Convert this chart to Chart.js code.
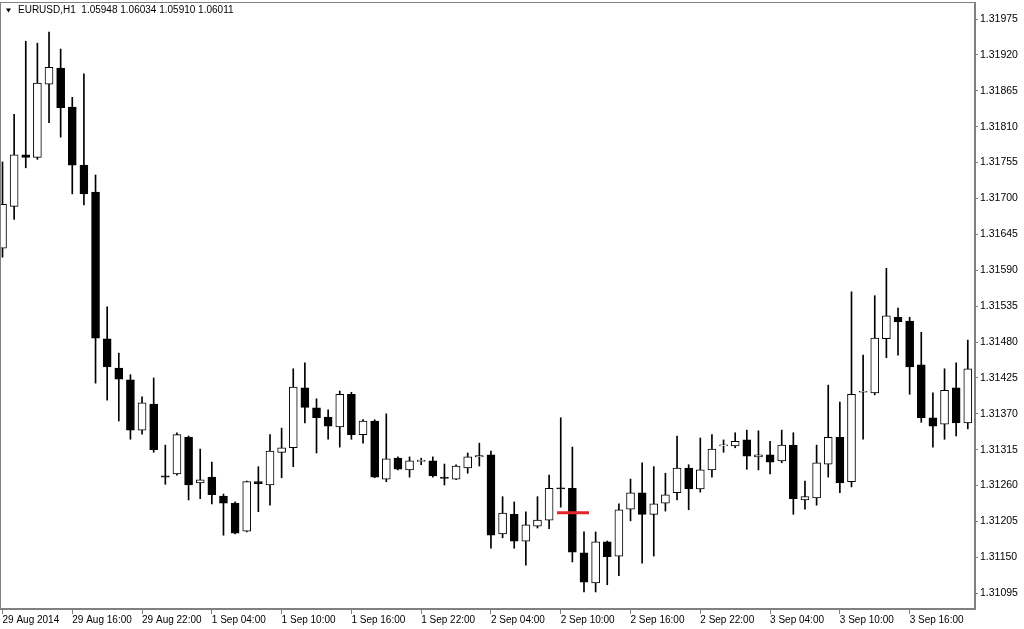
<!DOCTYPE html>
<html>
<head>
<meta charset="utf-8">
<script src="https://cdn.jsdelivr.net/npm/chart.js@4.4.0/dist/chart.umd.min.js"></script>
<style>
html, body { margin: 0; padding: 0; background: #fff; }
#chart { display: block; }
</style>
</head>
<body>
<canvas id="chart" width="1024" height="629"></canvas>
<script>
// EURUSD H1, one bar per hour
var opens = [
  1.31624, 1.31688, 1.31767, 1.31763, 1.31875, 1.31900, 1.31840, 1.31751, 1.31710, 1.31485,
  1.31440, 1.31422, 1.31345, 1.31385, 1.31275, 1.31278, 1.31334, 1.31264, 1.31273, 1.31244,
  1.31233, 1.31190, 1.31266, 1.31261, 1.31311, 1.31318, 1.31410, 1.31379, 1.31365, 1.31350,
  1.31400, 1.31338, 1.31359, 1.31270, 1.31302, 1.31284, 1.31297, 1.31298, 1.31273, 1.31270,
  1.31287, 1.31304, 1.31307, 1.31186, 1.31216, 1.31175, 1.31198, 1.31207, 1.31256, 1.31256,
  1.31157, 1.31111, 1.31174, 1.31152, 1.31224, 1.31249, 1.31216, 1.31233, 1.31249, 1.31287,
  1.31255, 1.31284, 1.31321, 1.31321, 1.31330, 1.31304, 1.31307, 1.31298, 1.31322, 1.31238,
  1.31241, 1.31293, 1.31334, 1.31266, 1.31403, 1.31402, 1.31485, 1.31518, 1.31512, 1.31445,
  1.31364, 1.31354, 1.31410, 1.31356
];
var highs = [
  1.31756, 1.31829, 1.31941, 1.31938, 1.31955, 1.31929, 1.31855, 1.31891, 1.31736, 1.31534,
  1.31463, 1.31430, 1.31396, 1.31425, 1.31322, 1.31341, 1.31336, 1.31316, 1.31296, 1.31247,
  1.31235, 1.31267, 1.31289, 1.31338, 1.31348, 1.31439, 1.31448, 1.31393, 1.31376, 1.31405,
  1.31403, 1.31361, 1.31361, 1.31370, 1.31304, 1.31304, 1.31302, 1.31304, 1.31293, 1.31292,
  1.31310, 1.31325, 1.31313, 1.31243, 1.31235, 1.31220, 1.31243, 1.31276, 1.31364, 1.31319,
  1.31189, 1.31189, 1.31175, 1.31232, 1.31270, 1.31295, 1.31289, 1.31279, 1.31336, 1.31292,
  1.31333, 1.31338, 1.31330, 1.31341, 1.31345, 1.31344, 1.31328, 1.31345, 1.31341, 1.31267,
  1.31322, 1.31414, 1.31388, 1.31557, 1.31460, 1.31551, 1.31593, 1.31532, 1.31518, 1.31495,
  1.31402, 1.31439, 1.31448, 1.31483
];
var lows = [
  1.31610, 1.31668, 1.31747, 1.31760, 1.31816, 1.31794, 1.31707, 1.31690, 1.31417, 1.31391,
  1.31359, 1.31331, 1.31339, 1.31311, 1.31262, 1.31276, 1.31238, 1.31240, 1.31232, 1.31184,
  1.31186, 1.31189, 1.31220, 1.31230, 1.31272, 1.31289, 1.31356, 1.31310, 1.31331, 1.31319,
  1.31331, 1.31325, 1.31272, 1.31266, 1.31284, 1.31273, 1.31292, 1.31273, 1.31261, 1.31269,
  1.31279, 1.31290, 1.31164, 1.31180, 1.31164, 1.31138, 1.31195, 1.31194, 1.31227, 1.31143,
  1.31097, 1.31097, 1.31108, 1.31122, 1.31206, 1.31141, 1.31152, 1.31221, 1.31238, 1.31223,
  1.31250, 1.31273, 1.31311, 1.31318, 1.31285, 1.31284, 1.31278, 1.31295, 1.31216, 1.31224,
  1.31230, 1.31273, 1.31249, 1.31258, 1.31331, 1.31399, 1.31456, 1.31460, 1.31400, 1.31357,
  1.31319, 1.31331, 1.31336, 1.31347
];
var closes = [
  1.31691, 1.31767, 1.31763, 1.31877, 1.31901, 1.31839, 1.31751, 1.31707, 1.31486, 1.31442,
  1.31423, 1.31345, 1.31387, 1.31315, 1.31273, 1.31338, 1.31261, 1.31269, 1.31246, 1.31233,
  1.31187, 1.31266, 1.31263, 1.31313, 1.31318, 1.31411, 1.31380, 1.31364, 1.31351, 1.31400,
  1.31338, 1.31359, 1.31273, 1.31301, 1.31285, 1.31298, 1.31299, 1.31275, 1.31271, 1.31290,
  1.31304, 1.31306, 1.31184, 1.31218, 1.31175, 1.31200, 1.31207, 1.31256, 1.31255, 1.31158,
  1.31112, 1.31174, 1.31151, 1.31223, 1.31249, 1.31216, 1.31232, 1.31246, 1.31287, 1.31255,
  1.31284, 1.31316, 1.31322, 1.31328, 1.31305, 1.31307, 1.31296, 1.31322, 1.31240, 1.31243,
  1.31295, 1.31334, 1.31264, 1.31400, 1.31404, 1.31486, 1.31520, 1.31511, 1.31442, 1.31364,
  1.31351, 1.31406, 1.31356, 1.31439
];

var xTickBars = [0, 6, 12, 18, 24, 30, 36, 42, 48, 54, 60, 66, 72, 78];
var xTickLabels = ['29 Aug 2014', '29 Aug 16:00', '29 Aug 22:00', '1 Sep 04:00', '1 Sep 10:00',
  '1 Sep 16:00', '1 Sep 22:00', '2 Sep 04:00', '2 Sep 10:00', '2 Sep 16:00', '2 Sep 22:00',
  '3 Sep 04:00', '3 Sep 10:00', '3 Sep 16:00'];
var yTicks = [1.31095, 1.31150, 1.31205, 1.31260, 1.31315, 1.31370, 1.31425, 1.31480, 1.31535,
  1.31590, 1.31645, 1.31700, 1.31755, 1.31810, 1.31865, 1.31920, 1.31975];

// horizontal line object drawn on the chart
var levelPrice = 1.312185;
var levelFrom = 47.68;
var levelTo = 50.43;

var headerText = 'EURUSD,H1  1.05948 1.06034 1.05910 1.06011';

var bodies = opens.map(function (o, i) { return { x: i, y: [o, closes[i]] }; });
var wicks = lows.map(function (l, i) { return { x: i, y: [l, highs[i]] }; });
var bodyColors = opens.map(function (o, i) { return closes[i] >= o ? '#ffffff' : '#000000'; });

var frameColor = '#808080';
var font = { family: '"Liberation Sans", Arial, sans-serif', size: 10 };

var framePlugin = {
  id: 'frame',
  afterDraw: function (chart) {
    var c = chart.ctx, a = chart.chartArea;
    c.save();
    c.strokeStyle = frameColor;
    c.lineWidth = 1;
    c.strokeRect(a.left + 0.5, a.top + 0.5, a.right - a.left - 1, a.bottom - a.top - 1);
    // price and time axes are a bit heavier
    c.lineWidth = 2;
    c.beginPath();
    c.moveTo(a.right, a.top);
    c.lineTo(a.right, a.bottom);
    c.lineTo(a.left, a.bottom);
    c.stroke();
    // little down arrow + symbol line
    c.fillStyle = '#000';
    c.beginPath();
    c.moveTo(6, 8.5);
    c.lineTo(11, 8.5);
    c.lineTo(8.5, 12.5);
    c.closePath();
    c.fill();
    c.font = '10px "Liberation Sans", Arial, sans-serif';
    c.textBaseline = 'middle';
    c.fillText(headerText, 18, 10.5);
    c.restore();
  }
};

new Chart(document.getElementById('chart'), {
  type: 'bar',
  data: {
    datasets: [
      {
        type: 'line',
        data: [{ x: levelFrom, y: levelPrice }, { x: levelTo, y: levelPrice }],
        borderColor: '#e3262e',
        borderWidth: 3,
        pointRadius: 0,
        order: 0
      },
      {
        data: bodies,
        backgroundColor: bodyColors,
        borderColor: '#000',
        borderWidth: 1,
        borderSkipped: false,
        barThickness: 8,
        minBarLength: 1,
        grouped: false,
        order: 1
      },
      {
        data: wicks,
        backgroundColor: '#000',
        borderWidth: 0,
        barThickness: 1,
        grouped: false,
        order: 2
      }
    ]
  },
  options: {
    responsive: false,
    animation: false,
    layout: { padding: { top: 2, left: 0, right: 0, bottom: 0 } },
    plugins: {
      legend: { display: false },
      tooltip: { enabled: false },
      title: { display: false }
    },
    scales: {
      x: {
        type: 'linear',
        offset: false,
        min: -0.215,
        max: 83.62,
        afterBuildTicks: function (s) { s.ticks = xTickBars.map(function (v) { return { value: v }; }); },
        afterFit: function (s) { s.height = 20; s.paddingLeft = 0; s.paddingRight = 0; },
        grid: { offset: false, drawOnChartArea: false, drawTicks: true, tickLength: 5, color: frameColor },
        border: { display: false },
        ticks: {
          align: 'start',
          autoSkip: false,
          maxRotation: 0,
          padding: 0,
          color: '#000',
          font: font,
          callback: function (v) { return xTickLabels[xTickBars.indexOf(v)]; }
        }
      },
      y: {
        position: 'right',
        min: 1.310709,
        max: 1.320011,
        afterBuildTicks: function (s) { s.ticks = yTicks.map(function (v) { return { value: v }; }); },
        afterFit: function (s) { s.width = 49; s.paddingTop = 0; s.paddingBottom = 0; },
        grid: { drawOnChartArea: false, drawTicks: true, tickLength: 3, color: frameColor },
        border: { display: false },
        ticks: {
          autoSkip: false,
          padding: 2,
          color: '#000',
          font: { family: font.family, size: 10.5 },
          callback: function (v) { return v.toFixed(5); }
        }
      }
    }
  },
  plugins: [framePlugin]
});
</script>
</body>
</html>
